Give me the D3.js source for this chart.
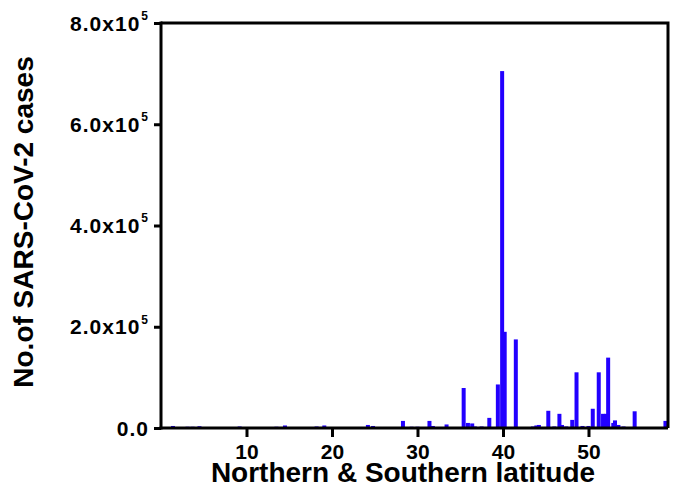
<!DOCTYPE html>
<html><head><meta charset="utf-8">
<script src="https://cdn.jsdelivr.net/npm/d3@7"></script>
<style>
html,body{margin:0;padding:0;background:#fff;}
svg text{font-family:"Liberation Sans",Arial,sans-serif;font-weight:bold;fill:#000;}
</style></head>
<body><svg id="c" width="677" height="487"></svg>
<script>
const latitudes = [1.4,3.1,3.7,4.5,9.2,13.5,14.5,18.2,19.1,23.3,23.6,24.2,24.8,25.6,26.2,28.3,29.3,30.0,31.4,31.8,33.4,35.4,35.9,36.4,36.7,37.5,38.4,39.4,39.9,40.2,41.2,41.5,43.5,43.9,44.2,45.3,46.0,46.6,46.9,47.4,48.1,48.6,49.3,50.0,50.5,51.2,51.7,52.1,52.3,52.9,53.1,53.5,54.1,54.5,55.4,59.0];
const cases = [4000,2500,2500,3500,3000,2500,5000,3000,5000,2000,2000,6000,4000,2000,2000,14000,2500,2500,14000,4000,7000,79000,10000,9000,3000,3000,20000,86000,705000,190000,2000,175000,3000,5000,6000,34000,3000,28000,6000,3000,16000,110000,4000,4000,38000,110000,28000,28000,139000,10000,15000,6000,3000,2000,33000,14000];
const xTicks = [10,20,30,40,50];
const yTicks = [0,200000,400000,600000,800000];
const xLabel = "Northern & Southern latitude";
const yLabel = "No.of SARS-CoV-2 cases";

const svg = d3.select("#c");
const L = 161, R = 668, T = 23, B = 428;
const x = d3.scaleLinear().domain([0, 59.3]).range([L, R]);
const y = d3.scaleLinear().domain([0, 800000]).range([B, T]);

// bars
svg.append("g").selectAll("rect").data(latitudes).join("rect")
  .attr("x", (d) => x(d) - 2)
  .attr("width", 4)
  .attr("y", (d, i) => y(cases[i]))
  .attr("height", (d, i) => B - y(cases[i]))
  .attr("fill", "#2200ff");

// frame top/right
svg.append("path").attr("d", `M${L},${T}H${R}V${B}`).attr("fill","none").attr("stroke","#000").attr("stroke-width",3);

// x axis
const gx = svg.append("g").attr("transform", `translate(0,${B})`)
  .call(d3.axisBottom(x).tickValues(xTicks).tickSize(9).tickPadding(7).tickFormat(d3.format("d")));
gx.select(".domain").attr("d", `M${L - 1.5},0H${R}`).attr("stroke-width", 3);
gx.selectAll(".tick line").attr("stroke-width", 3);
gx.selectAll(".tick text").style("font-size", "21px").attr("fill", "#000");

// y axis
const gy = svg.append("g").attr("transform", `translate(${L},0)`)
  .call(d3.axisLeft(y).tickValues(yTicks).tickSize(7).tickPadding(8).tickFormat(() => ""));
gy.select(".domain").attr("d", `M0,${B + 1.5}V${T - 1.5}`).attr("stroke-width", 3);
gy.selectAll(".tick line").attr("stroke-width", 3);
gy.selectAll(".tick text").each(function(d) {
  const t = d3.select(this).style("font-size", "21px").style("letter-spacing", "1px").attr("dy", "0.34em").attr("x", -12);
  if (d === 0) { t.append("tspan").text("0.0"); }
  else {
    t.append("tspan").text((d / 100000).toFixed(1) + "x10");
    t.append("tspan").text("5").style("font-size", "12px").attr("dy", "-0.9em").attr("dx", "1");
  }
});

// axis titles
svg.append("text").attr("x", 403).attr("y", 482).attr("text-anchor", "middle")
  .style("font-size", "28px").text(xLabel);
svg.append("text").attr("transform", `translate(33,222) rotate(-90)`).attr("text-anchor", "middle")
  .style("font-size", "28px").text(yLabel);
</script></body></html>
